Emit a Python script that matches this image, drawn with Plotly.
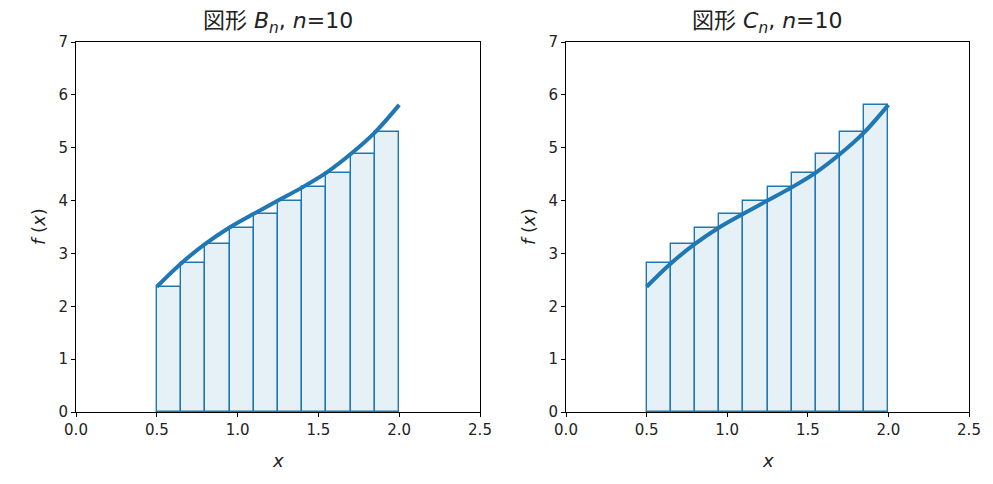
import plotly.graph_objects as go

# Data
edges_x = [0.5, 0.65, 0.8, 0.95, 1.1, 1.25, 1.4, 1.55, 1.7, 1.85, 2.0]
curve_y = [2.37, 2.81, 3.18, 3.49, 3.75, 4.00, 4.25, 4.53, 4.88, 5.29, 5.81]
bar_centers = [0.575, 0.725, 0.875, 1.025, 1.175, 1.325, 1.475, 1.625, 1.775, 1.925]
heights_B = [2.37, 2.81, 3.18, 3.49, 3.75, 4.00, 4.25, 4.53, 4.88, 5.29]
heights_C = [2.81, 3.18, 3.49, 3.75, 4.00, 4.25, 4.53, 4.88, 5.29, 5.81]
bar_width = 0.15
x_ticks = [0.0, 0.5, 1.0, 1.5, 2.0, 2.5]
x_tick_labels = ["0.0", "0.5", "1.0", "1.5", "2.0", "2.5"]
y_ticks = [0, 1, 2, 3, 4, 5, 6, 7]
titles = ["図形 <i>B<sub>n</sub></i>, <i>n</i>=10", "図形 <i>C<sub>n</sub></i>, <i>n</i>=10"]

BLUE = "#1f77b4"
FONT = "DejaVu Sans"
TITLE_FONT = "DejaVu Sans, Noto Sans CJK JP"

# page body has 8px margin -> figure drawn at offset 8
W, H, OFF = 977, 468, 8

def fx(px):
    return (px - OFF) / W

def fy(py):
    return 1 - (py - OFF) / H

fig = go.Figure()
for i, heights in enumerate([heights_B, heights_C]):
    xa = "x" if i == 0 else "x2"
    ya = "y" if i == 0 else "y2"
    fig.add_trace(go.Bar(x=bar_centers, y=heights, width=[bar_width] * len(bar_centers),
                         marker=dict(color="rgba(31,119,180,0.11)", line=dict(color=BLUE, width=1.4)),
                         xaxis=xa, yaxis=ya, showlegend=False, hoverinfo="skip"))
    fig.add_trace(go.Scatter(x=edges_x, y=curve_y, mode="lines",
                             line=dict(color=BLUE, width=4, shape="spline", smoothing=0.9),
                             xaxis=xa, yaxis=ya, showlegend=False))

axis_common = dict(showline=True, linecolor="black", linewidth=1, mirror=True, automargin=False,
                   ticks="outside", ticklen=4, tickcolor="black", showgrid=False, zeroline=False,
                   tickfont=dict(family=FONT, size=15, color="#222"))

dom1 = [fx(76), fx(480)]
dom2 = [fx(566), fx(969)]
ydom = [fy(412), fy(42)]

fig.update_layout(
    width=W, height=H,
    margin=dict(l=0, r=0, t=0, b=0, pad=0),
    paper_bgcolor="white", plot_bgcolor="white",
    bargap=0,
    font=dict(family=FONT, color="#222"),
    xaxis=dict(domain=dom1, range=[0, 2.5], tickvals=x_ticks, ticktext=x_tick_labels, anchor="y", **axis_common),
    yaxis=dict(domain=ydom, range=[0, 7], tickvals=y_ticks, anchor="x", **axis_common),
    xaxis2=dict(domain=dom2, range=[0, 2.5], tickvals=x_ticks, ticktext=x_tick_labels, anchor="y2", **axis_common),
    yaxis2=dict(domain=ydom, range=[0, 7], tickvals=y_ticks, anchor="x2", **axis_common),
)

annotations = []
for i, (lpx, rpx) in enumerate([(76, 480), (566, 969)]):
    cx = fx((lpx + rpx) / 2)
    annotations.append(dict(text=titles[i], x=cx, y=fy(22), xref="paper", yref="paper",
                            showarrow=False, xanchor="center", yanchor="middle",
                            font=dict(family=TITLE_FONT, size=22, color="#222")))
    annotations.append(dict(text="<i>x</i>", x=cx, y=fy(460), xref="paper", yref="paper",
                            showarrow=False, xanchor="center", yanchor="middle",
                            font=dict(family=FONT, size=18, color="#222")))
    annotations.append(dict(text="<i>f</i> (<i>x</i>)", x=fx(lpx - 38), y=fy(227),
                            xref="paper", yref="paper", showarrow=False, textangle=-90,
                            xanchor="center", yanchor="middle",
                            font=dict(family=FONT, size=18, color="#222")))
fig.update_layout(annotations=annotations)

fig.write_html("out.html")
